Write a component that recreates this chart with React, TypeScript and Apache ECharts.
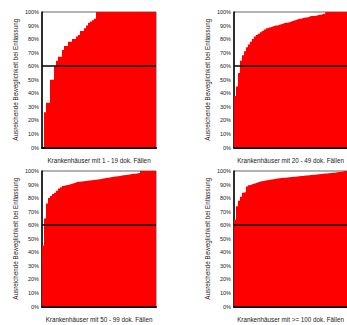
import React, { useEffect, useRef } from "react";
import * as echarts from "echarts";

const yAxisTitle = "Ausreichende Beweglichkeit bei Entlassung";
const panelTitles = [
  "Krankenhäuser mit 1 - 19 dok. Fällen",
  "Krankenhäuser mit 20 - 49 dok. Fällen",
  "Krankenhäuser mit 50 - 99 dok. Fällen",
  "Krankenhäuser mit >= 100 dok. Fällen",
];
const yTicks = [0, 10, 20, 30, 40, 50, 60, 70, 80, 90, 100];
const referenceValue = 60;

const values1 = [
  0, 26, 33, 33, 50, 50, 60, 64, 67, 67, 72, 75, 75, 78, 78, 80, 80, 82, 83, 86,
  86, 88, 90, 92, 93, 94, 95, 100, 100, 100, 100, 100, 100, 100, 100, 100, 100,
  100, 100, 100, 100, 100, 100, 100, 100, 100, 100, 100, 100, 100, 100, 100, 100,
  100, 100, 100, 100,
];
const values2 = [
  38, 45, 55, 64, 68, 71, 74, 76, 78, 80, 82, 83, 84, 85, 86, 87, 88, 88.5, 89,
  89.5, 90, 90, 90.5, 91, 91.5, 92, 92, 92.5, 93, 93.5, 94, 94.5, 95, 95, 95.5, 96,
  96, 96.5, 97, 97, 97, 97.5, 98, 98, 98.5, 98.5, 100, 100, 100, 100, 100, 100, 100,
  100, 100, 100, 100,
];
const values3 = [
  45, 65, 76, 80, 81.5, 83, 84, 85.5, 87, 88, 89, 89.5, 89.7, 90, 90.5, 91, 91.5,
  92, 92, 92.2, 92.4, 92.6, 92.8, 93, 93.2, 93.4, 93.6, 93.8, 94, 94.2, 94.5, 94.8,
  95, 95.2, 95.5, 95.7, 96, 96.2, 96.4, 96.6, 96.8, 97, 97.2, 97.5, 97.7, 98, 98,
  98.3, 98.5, 100, 100, 100, 100, 100, 100, 100, 100,
];
const values4 = [
  64, 74, 78, 81, 84, 84.5, 88.5, 89.5, 90, 90.5, 91, 91.5, 92, 92.4, 92.7, 93, 93.2,
  93.5, 93.8, 94, 94.2, 94.4, 94.6, 94.8, 95, 95.1, 95.2, 95.4, 95.5, 95.7, 95.8, 96,
  96.1, 96.3, 96.4, 96.6, 96.7, 96.9, 97, 97.2, 97.3, 97.5, 97.6, 97.8, 97.9, 98.1,
  98.2, 98.4, 98.5, 98.7, 98.8, 99, 99.2, 99.4, 99.6, 100, 100,
];

const allValues = [values1, values2, values3, values4];

const FONT = "'Liberation Sans', Arial, sans-serif";

export default function App() {
  const ref = useRef<HTMLDivElement>(null);

  useEffect(() => {
    if (!ref.current) return;
    const chart = echarts.init(ref.current, undefined, { renderer: "svg" });

    const gridPos = [
      { left: 42, top: 12 },
      { left: 234, top: 12 },
      { left: 42, top: 171 },
      { left: 234, top: 171 },
    ];

    const grid = gridPos.map((p) => ({
      left: p.left,
      top: p.top,
      width: 114,
      height: 135.5,
      show: true,
      backgroundColor: "transparent",
      borderColor: "#666",
      borderWidth: 1,
    }));

    const xAxis = allValues.map((vals, i) => ({
      type: "value",
      gridIndex: i,
      min: 0,
      max: vals.length,
      name: panelTitles[i],
      nameLocation: "middle",
      nameGap: 10,
      nameTextStyle: { fontSize: 6.3, color: "#222", fontFamily: FONT },
      axisLine: { show: true, onZero: false, lineStyle: { color: "#000", width: 2 } },
      axisTick: { show: false },
      axisLabel: { show: false },
      splitLine: { show: false },
    }));

    const yAxis = allValues.map((_, i) => ({
      type: "value",
      gridIndex: i,
      min: yTicks[0],
      max: yTicks[yTicks.length - 1],
      interval: yTicks[1] - yTicks[0],
      name: yAxisTitle,
      nameLocation: "middle",
      nameGap: 24,
      nameTextStyle: { fontSize: 6.3, color: "#222", fontFamily: FONT },
      axisLine: { show: true, lineStyle: { color: "#000", width: 1.5 } },
      axisTick: { show: false },
      axisLabel: {
        formatter: "{value}%",
        fontSize: 5.5,
        color: "#222",
        fontFamily: FONT,
        margin: 3,
      },
      splitLine: { show: false },
    }));

    const series = allValues.map((vals, i) => {
      const data = vals.map((v, k) => [k, v]);
      data.push([vals.length, vals[vals.length - 1]]);
      return {
        type: "line",
        xAxisIndex: i,
        yAxisIndex: i,
        step: "end",
        symbol: "none",
        data,
        lineStyle: { width: 0, color: "#ff0000" },
        areaStyle: { color: "#ff0000", opacity: 1 },
        markLine: {
          silent: true,
          symbol: "none",
          label: { show: false },
          lineStyle: { color: "#000", type: "solid", width: 1.5 },
          data: [{ yAxis: referenceValue }],
        },
        z: 2,
      };
    });

    chart.setOption({
      animation: false,
      backgroundColor: "#fff",
      grid,
      xAxis,
      yAxis,
      series,
    });

    return () => chart.dispose();
  }, []);

  return (
    <div
      ref={ref}
      style={{ position: "fixed", left: 0, top: 0, width: 347, height: 325 }}
    />
  );
}
